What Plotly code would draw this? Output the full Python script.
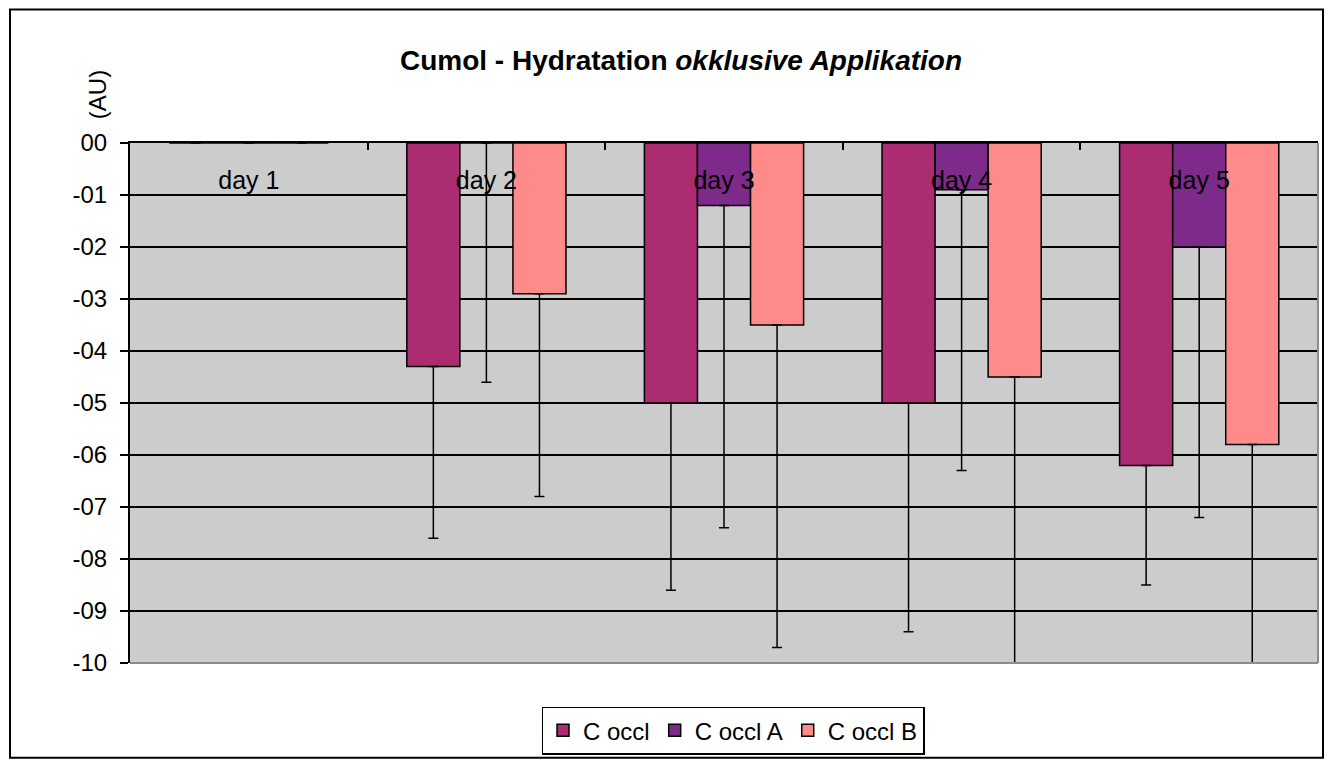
import plotly.graph_objects as go

# data
days = ["day 1", "day 2", "day 3", "day 4", "day 5"]

c_occl = [0, -4.3, -5.0, -5.0, -6.2]
c_occl_err = [0, 3.3, 3.6, 4.4, 2.3]

c_occl_a = [0, 0, -1.2, -0.9, -2.0]
c_occl_a_err = [0, 4.6, 6.2, 5.4, 5.2]

c_occl_b = [0, -2.9, -3.5, -4.5, -5.8]
c_occl_b_err = [0, 3.9, 6.2, 5.5, 4.8]

y_ticks = [0, -1, -2, -3, -4, -5, -6, -7, -8, -9, -10]
y_labels = ["00", "-01", "-02", "-03", "-04", "-05", "-06", "-07", "-08", "-09", "-10"]

FONT = "Liberation Sans, Arial, sans-serif"


def bar(name, values, errs, color):
    return go.Bar(
        x=days, y=values, name=name,
        marker=dict(color=color, line=dict(color="black", width=1.5)),
        error_y=dict(type="data", symmetric=False, array=[0] * len(errs),
                     arrayminus=errs, color="black", thickness=1.5, width=5),
    )


fig = go.Figure()
fig.add_trace(bar("C occl", c_occl, c_occl_err, "#AC2C71"))
fig.add_trace(bar("C occl A", c_occl_a, c_occl_a_err, "#7E2A8B"))
fig.add_trace(bar("C occl B", c_occl_b, c_occl_b_err, "#FF8A8A"))
# empty trace so the top category axis (line + boundary ticks) knows the days
fig.add_trace(go.Scatter(x=days, y=[None] * len(days), xaxis="x2", yaxis="y",
                         showlegend=False, hoverinfo="skip", mode="markers"))

# the page has an 8px body margin; figure is sized to fit inside it
FW, FH = 1316, 753
L, R, T, B = 122, 6, 135, 96
W, H = FW - L - R, FH - T - B
OFF = 8


def px(x):  # page pixel -> paper x
    return (x - OFF - L) / W


def py(y):  # page pixel -> paper y
    return (T + H - (y - OFF)) / H


fig.update_layout(
    width=FW, height=FH,
    margin=dict(l=L, r=R, t=T, b=B),
    paper_bgcolor="white",
    plot_bgcolor="#CCCCCC",
    font=dict(family=FONT, size=24, color="black"),
    barmode="group", bargap=0.33, bargroupgap=0,
    title=dict(
        text="<b>Cumol - Hydratation <i>okklusive Applikation</i></b>",
        x=(681 - OFF) / FW, xanchor="center", xref="container",
        y=1 - (60 - OFF) / FH, yanchor="middle", yref="container",
        font=dict(size=28, family=FONT, color="black"),
    ),
    # category labels sit just under the top axis line, inside the plot
    xaxis=dict(
        type="category", side="bottom", anchor="free", position=py(163),
        showline=False, ticks="", showgrid=False,
        tickfont=dict(size=25, color="black"),
    ),
    xaxis2=dict(
        type="category", matches="x", overlaying="x", side="top", anchor="y",
        showline=True, linecolor="black", linewidth=2,
        ticks="inside", tickson="boundaries", ticklen=7, tickcolor="black",
        tickwidth=2, showticklabels=False, showgrid=False,
    ),
    yaxis=dict(
        range=[-10, 0], tickvals=y_ticks, ticktext=y_labels,
        showline=True, linecolor="black", linewidth=2,
        ticks="outside", ticklen=8, tickcolor="black", tickwidth=2,
        ticklabelstandoff=8,
        showgrid=True, gridcolor="black", gridwidth=1.5, zeroline=False,
        tickfont=dict(size=24, color="black"),
    ),
    legend=dict(
        orientation="h", x=px(733), xanchor="center", y=py(733), yanchor="middle",
        bordercolor="black", borderwidth=1.5, bgcolor="white",
        font=dict(size=24, color="black"), traceorder="normal",
    ),
    showlegend=True,
    annotations=[dict(
        text="(AU)", textangle=-90, xref="paper", yref="paper",
        x=px(97), y=py(95), xanchor="center", yanchor="middle",
        showarrow=False, font=dict(size=24, color="black"),
    )],
    shapes=[
        # grey plot-area border on bottom and right
        dict(type="line", xref="paper", yref="paper", x0=0, y0=0, x1=1, y1=0,
             line=dict(color="#8C8C8C", width=2)),
        dict(type="line", xref="paper", yref="paper", x0=1, y0=0, x1=1, y1=1,
             line=dict(color="#8C8C8C", width=2)),
        # chart border
        dict(type="rect", xref="paper", yref="paper", x0=px(10), x1=px(1323),
             y0=py(760), y1=py(9), line=dict(color="black", width=2), layer="below"),
    ],
)

fig.write_html("out.html")
